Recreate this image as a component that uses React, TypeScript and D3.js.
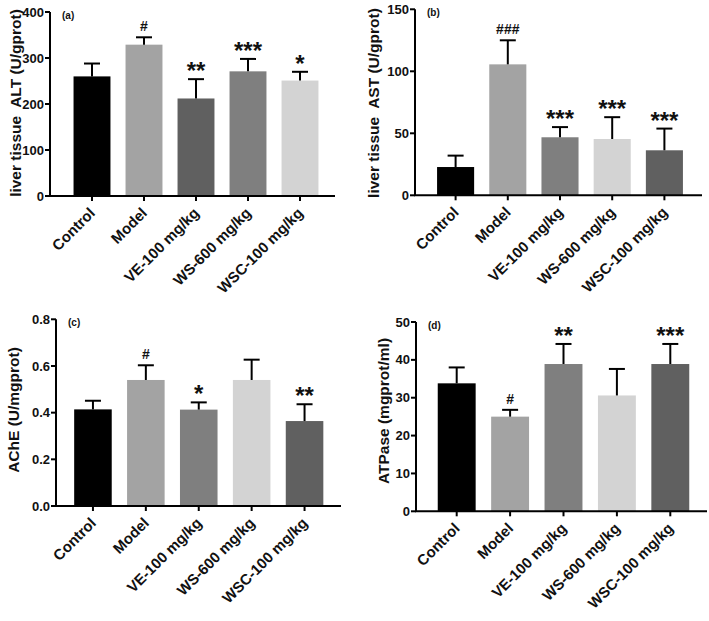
import * as d3 from 'd3'
import { useEffect, useRef } from 'react'

const width = 709
const height = 621
const font = '"Liberation Sans", Arial, sans-serif'

const groups = ['Control', 'Model', 'VE-100 mg/kg', 'WS-600 mg/kg', 'WSC-100 mg/kg']

// (a) liver tissue ALT
const altMean = [260, 329, 212, 271, 251]
const altSd = [28, 16, 42, 27, 19]
const altMarks = ['', '#', '**', '***', '*']
const altTicks = [0, 100, 200, 300, 400]

// (b) liver tissue AST
const astMean = [22.8, 105.6, 46.8, 45.4, 36.3]
const astSd = [9.2, 19.4, 8.2, 17.6, 17.5]
const astMarks = ['', '###', '***', '***', '***']
const astTicks = [0, 50, 100, 150]

// (c) AChE
const acheMean = [0.414, 0.54, 0.413, 0.54, 0.364]
const acheSd = [0.037, 0.063, 0.031, 0.087, 0.072]
const acheMarks = ['', '#', '*', '', '**']
const acheTicks = [0, 0.2, 0.4, 0.6, 0.8]

// (d) ATPase
const atpMean = [33.8, 25, 38.9, 30.6, 38.9]
const atpSd = [4.2, 1.8, 5.3, 7, 5.3]
const atpMarks = ['', '#', '**', '', '***']
const atpTicks = [0, 10, 20, 30, 40, 50]

const colorsA = ['#000000', '#a3a3a3', '#606060', '#7f7f7f', '#d3d3d3']
const colorsB = ['#000000', '#a3a3a3', '#7f7f7f', '#d3d3d3', '#606060']

type Panel = {
  tag: string
  label: string
  mean: number[]
  sd: number[]
  marks: string[]
  ticks: number[]
  fmt: (v: number) => string
  colors: string[]
  left: number
  top: number
  bottom: number
  right: number
  bandL: number
  bandR: number
  labelX: number
  labelY: number
}

const panels: Panel[] = [
  {
    tag: '(a)', label: 'liver tissue  ALT (U/gprot)', mean: altMean, sd: altSd, marks: altMarks,
    ticks: altTicks, fmt: d3.format('d'), colors: colorsA,
    left: 50, top: 12, bottom: 196, right: 335, bandL: 66, bandR: 326, labelX: 21, labelY: 103
  },
  {
    tag: '(b)', label: 'liver tissue  AST (U/gprot)', mean: astMean, sd: astSd, marks: astMarks,
    ticks: astTicks, fmt: d3.format('d'), colors: colorsB,
    left: 415, top: 9.3, bottom: 195.3, right: 702, bandL: 429.5, bandR: 690.5, labelX: 379, labelY: 103
  },
  {
    tag: '(c)', label: 'AChE (U/mgprot)', mean: acheMean, sd: acheSd, marks: acheMarks,
    ticks: acheTicks, fmt: d3.format('.1f'), colors: colorsB,
    left: 56, top: 319.3, bottom: 506, right: 341, bandL: 66.5, bandR: 331, labelX: 19, labelY: 410
  },
  {
    tag: '(d)', label: 'ATPase (mgprot/ml)', mean: atpMean, sd: atpSd, marks: atpMarks,
    ticks: atpTicks, fmt: d3.format('d'), colors: colorsB,
    left: 416, top: 322, bottom: 511.3, right: 707, bandL: 430, bandR: 697, labelX: 389, labelY: 411
  },
]

export default function App() {
  const ref = useRef<SVGSVGElement>(null)

  useEffect(() => {
    const svg = d3.select(ref.current)
    svg.selectAll('*').remove()

    panels.forEach(p => {
      const g = svg.append('g').attr('font-family', font).attr('font-weight', 'bold')
      const ticks = p.ticks
      const y = d3.scaleLinear([0, ticks[ticks.length - 1]], [p.bottom, p.top])
      const x = d3
        .scaleBand<string>()
        .domain(groups)
        .range([p.bandL, p.bandR])
        .paddingInner(0.29)
        .paddingOuter(0.145)

      // bars
      g.selectAll('rect.bar')
        .data(groups)
        .join('rect')
        .attr('x', d => x(d)!)
        .attr('width', x.bandwidth())
        .attr('y', (_, i) => y(p.mean[i]))
        .attr('height', (_, i) => p.bottom - y(p.mean[i]))
        .attr('fill', (_, i) => p.colors[i])

      // error bars (upper only)
      const cap = 8
      groups.forEach((d, i) => {
        const cx = x(d)! + x.bandwidth() / 2
        const y0 = y(p.mean[i])
        const y1 = y(p.mean[i] + p.sd[i])
        g.append('line')
          .attr('x1', cx).attr('x2', cx).attr('y1', y0).attr('y2', y1)
          .attr('stroke', '#000').attr('stroke-width', 2)
        g.append('line')
          .attr('x1', cx - cap).attr('x2', cx + cap).attr('y1', y1).attr('y2', y1)
          .attr('stroke', '#000').attr('stroke-width', 2)
        const m = p.marks[i]
        if (m) {
          const star = m.startsWith('*')
          g.append('text')
            .attr('x', cx)
            .attr('y', star ? y1 : y1 - 6)
            .attr('text-anchor', 'middle')
            .attr('font-size', star ? 24 : 14)
            .attr('fill', '#111')
            .text(m)
        }
      })

      // y axis
      g.append('line')
        .attr('x1', p.left).attr('x2', p.left).attr('y1', p.top).attr('y2', p.bottom)
        .attr('stroke', '#000').attr('stroke-width', 2)
      ticks.forEach(t => {
        g.append('line')
          .attr('x1', p.left - 5).attr('x2', p.left).attr('y1', y(t)).attr('y2', y(t))
          .attr('stroke', '#000').attr('stroke-width', 2)
        g.append('text')
          .attr('x', p.left - 6)
          .attr('y', y(t))
          .attr('dy', '0.35em')
          .attr('text-anchor', 'end')
          .attr('font-size', 13)
          .attr('fill', '#111')
          .text(p.fmt(t))
      })

      // x axis
      g.append('line')
        .attr('x1', p.left - 1).attr('x2', p.right).attr('y1', p.bottom).attr('y2', p.bottom)
        .attr('stroke', '#000').attr('stroke-width', 2)
      groups.forEach(d => {
        const cx = x(d)! + x.bandwidth() / 2
        g.append('line')
          .attr('x1', cx).attr('x2', cx).attr('y1', p.bottom).attr('y2', p.bottom + 5)
          .attr('stroke', '#000').attr('stroke-width', 2)
        g.append('text')
          .attr('transform', `translate(${cx + 4},${p.bottom + 18}) rotate(-45)`)
          .attr('text-anchor', 'end')
          .attr('font-size', 15)
          .attr('fill', '#111')
          .text(d)
      })

      // y label
      g.append('text')
        .attr('transform', `translate(${p.labelX},${p.labelY}) rotate(-90)`)
        .attr('text-anchor', 'middle')
        .attr('font-size', 15.5)
        .attr('fill', '#111')
        .style('white-space', 'pre')
        .text(p.label)

      // panel tag
      g.append('text')
        .attr('x', p.left + 12)
        .attr('y', p.top + 7)
        .attr('font-size', 10)
        .attr('fill', '#111')
        .text(p.tag)
    })
  }, [])

  return (
    <svg
      ref={ref}
      width={width}
      height={height}
      viewBox={`0 0 ${width} ${height}`}
      style={{ position: 'absolute', left: 0, top: 0, background: '#fff' }}
    ></svg>
  )
}
